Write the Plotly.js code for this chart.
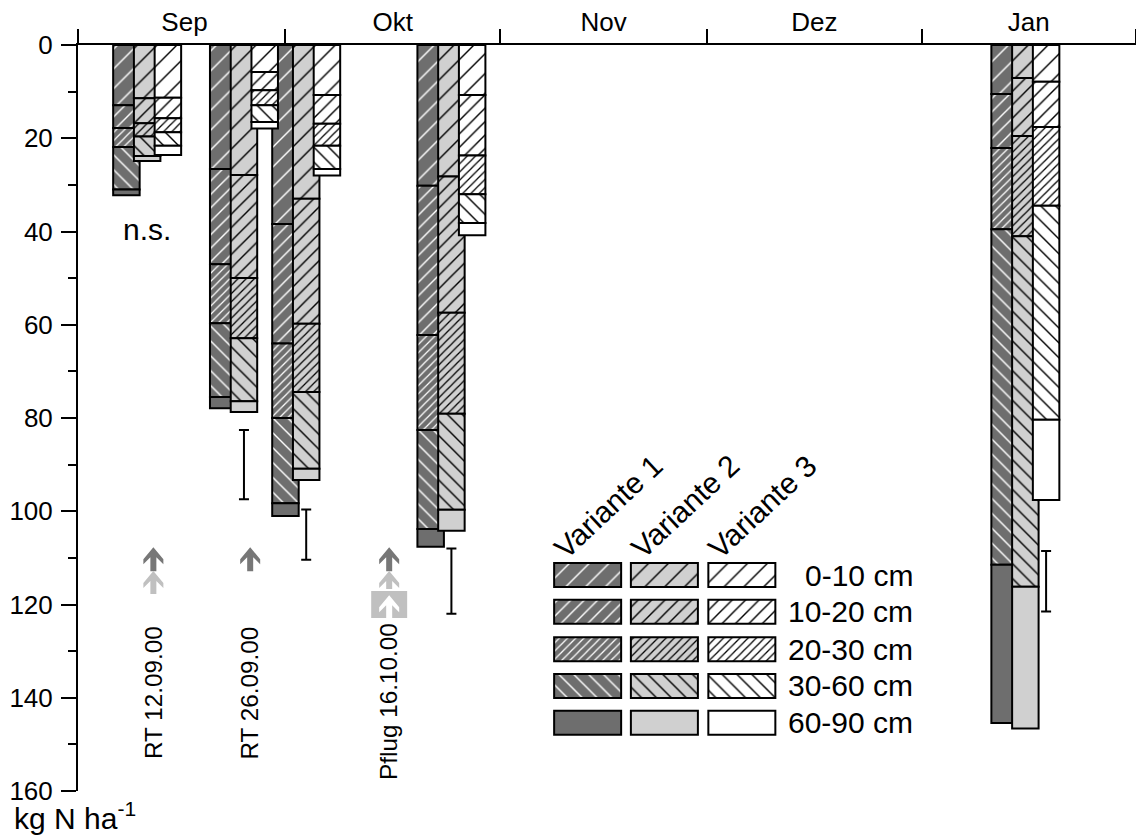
<!DOCTYPE html>
<html><head><meta charset="utf-8">
<script src="https://cdn.plot.ly/plotly-3.0.1.min.js"></script>
<style>html,body{margin:0;padding:0;background:#fff}</style></head>
<body><div id="chart" style="width:1136px;height:836px"></div>
<script>
const months = ['Sep','Okt','Nov','Dez','Jan'];
const monthEdges = [0,30,61,91,122,153];
const monthCenters = [15.4,45.5,76,106.5,137.5];
const depths = ['0-10 cm','10-20 cm','20-30 cm','30-60 cm','60-90 cm'];
const variants = ['Variante 1','Variante 2','Variante 3'];

// Positions of the bars per sampling date (days after 1 Sep)
const xVar1 = [7,21,30,51,134];
const xVar2 = [10,24,33,54,137];
const xVar3 = [13,27,36,57,140];

// Cumulative kg N/ha at the lower boundary of each layer, one row per sampling date
const cumVar1 = [
  [12.9,17.8,21.9,31.0,32.2],
  [26.6,47.0,59.7,75.5,77.9],
  [38.4,64.0,80.0,98.3,101.0],
  [30.2,62.2,82.6,103.8,107.6],
  [10.5,22.1,39.5,111.5,145.4]
];
const cumVar2 = [
  [11.4,16.8,19.6,23.8,24.9],
  [27.9,50.0,62.9,76.4,78.7],
  [33.0,59.8,74.4,90.9,93.3],
  [28.2,57.4,79.1,99.7,104.2],
  [7.1,19.5,41.0,116.2,146.6]
];
const cumVar3 = [
  [11.3,15.7,18.7,21.6,23.6],
  [5.8,9.7,12.9,16.5,17.9],
  [10.7,16.9,21.6,26.6,28.0],
  [10.7,23.7,32.0,38.2,40.8],
  [7.9,17.6,34.5,80.4,97.6]
];

// LSD-style bars
const errX = [24,33,54,140];
const errMid = [90,105,115,115];
const errHalf = [7.4,5.4,7,6.5];

const fills = ['#6e6e6e','#d0d0d0','#ffffff'];
const hatchInk = ['#ffffff','#000000','#000000'];
const hatchShape = ['/','/','/','\\',''];
const hatchSize = [14,9.5,5.8,10.5,10];
const hatchWeight = [2,2,1.8,2,0];

const xAll = [xVar1,xVar2,xVar3], cumAll = [cumVar1,cumVar2,cumVar3];
const barW = 3.83;
const font = 'Liberation Sans, Arial, sans-serif';

function marker(v,d){
  const m = {color:fills[v], line:{color:'#000',width:2}};
  if(hatchShape[d]){
    const w = hatchWeight[d];
    m.pattern = {shape:hatchShape[d], size:hatchSize[d],
      solidity:w/(hatchSize[d]*1.414), fgcolor:hatchInk[v], bgcolor:fills[v], fillmode:'replace'};
  }
  return m;
}
const traces = [];
// invisible carrier for the month-label axis
traces.push({type:'scatter',mode:'markers',x:monthCenters,y:monthCenters.map(()=>0),xaxis:'x2',yaxis:'y',
  marker:{opacity:0,size:1},hoverinfo:'skip',showlegend:false});
for(let v=0;v<3;v++){
  for(let d=0;d<5;d++){
    traces.push({type:'bar',name:variants[v]+' '+depths[d],showlegend:false,
      x:xAll[v],
      base:cumAll[v].map(r=>d===0?0:r[d-1]),
      y:cumAll[v].map(r=>r[d]-(d===0?0:r[d-1])),
      width:xAll[v].map(()=>barW),
      marker:marker(v,d)});
  }
}
// key swatches, on the chart's own scales
const keyX = [73.7,84.8,96.0], keyW = 9.69, keyY = [111.1,119.0,127.0,134.9,142.8], keyH = 5.15;
for(let v=0;v<3;v++){
  for(let d=0;d<5;d++){
    traces.push({type:'bar',showlegend:false,hoverinfo:'skip',
      x:[keyX[v]],base:[keyY[d]],y:[keyH],width:[keyW],marker:marker(v,d)});
  }
}
traces.push({type:'scatter',mode:'markers',x:errX,y:errMid,showlegend:false,
  marker:{size:1,color:'rgba(0,0,0,0)'},
  error_y:{type:'data',array:errHalf,symmetric:true,color:'#000',thickness:2,width:5}});

function label(text,x,y,size,opts){
  return Object.assign({text,x,y,xref:'x',yref:'y',showarrow:false,xanchor:'center',yanchor:'middle',
    font:{family:font,size,color:'#000'}},opts||{});
}
// Field-operation arrows: anchored at a chart position, drawn at a fixed pixel size
function arrow(x,tip,color,len){
  return {type:'path',xref:'x',yref:'y',xsizemode:'pixel',ysizemode:'pixel',xanchor:x,yanchor:tip,
    path:`M0,0 L10,-12 L10,-17 L3,-10 L3,-${len} L-3,-${len} L-3,-10 L-10,-17 L-10,-12 Z`,
    fillcolor:color,line:{width:0},layer:'above'};
}
const dark='#777777', light='#c0c0c0';
const annotations = [
  label('n.s.',10,39.5,30),
  label('RT 12.09.00',10.85,139,24.3,{textangle:-90}),
  label('RT 26.09.00',24.8,139,24.3,{textangle:-90}),
  label('Pflug 16.10.00',44.9,140.8,24.3,{textangle:-90}),
  {text:'kg N ha<sup>-1</sup>',xref:'paper',yref:'paper',x:-0.0624,y:-0.033,xanchor:'left',yanchor:'middle',
    showarrow:false,font:{family:font,size:30,color:'#000'}}
];
[0,1,2].forEach(v=>annotations.push(label(variants[v],keyX[v]+3,99,30,{textangle:-43})));
depths.forEach((t,d)=>annotations.push(label(t,121.1,keyY[d]+keyH/2,30,{xanchor:'right'})));

const layout = {
  width:1136,height:836,margin:{l:78,r:0,t:45,b:45},
  paper_bgcolor:'#fff',plot_bgcolor:'#fff',barmode:'overlay',showlegend:false,
  font:{family:font,size:26,color:'#000'},
  xaxis:{side:'top',range:[0,153],tickmode:'array',tickvals:monthEdges,showticklabels:false,
    ticks:'outside',ticklen:14,tickwidth:2,tickcolor:'#000',showline:true,linewidth:2,linecolor:'#000',
    showgrid:false,zeroline:false,anchor:'y'},
  xaxis2:{overlaying:'x',side:'top',range:[0,153],tickmode:'array',tickvals:monthCenters,ticktext:months,
    ticks:'outside',ticklen:3,tickcolor:'rgba(0,0,0,0)',showline:false,showgrid:false,zeroline:false,anchor:'y',
    tickfont:{family:font,size:26,color:'#000'}},
  yaxis:{range:[160,0],tickmode:'linear',tick0:0,dtick:20,ticks:'outside',ticklen:15,tickwidth:2,tickcolor:'#000',
    minor:{dtick:10,ticks:'outside',ticklen:8,tickwidth:2,tickcolor:'#000',showgrid:false},
    showline:true,linewidth:2,linecolor:'#000',showgrid:false,zeroline:false,ticklabelstandoff:3,
    tickfont:{family:font,size:26,color:'#000'}},
  shapes:[
    {type:'rect',xref:'x',yref:'y',x0:42.4,x1:47.6,y0:117.1,y1:122.9,fillcolor:light,line:{width:0},layer:'above'},
    arrow(10.9,107.7,dark,24), arrow(10.9,112.8,light,23),
    arrow(24.9,107.7,dark,24),
    arrow(45,107.7,dark,24), arrow(45,112.8,light,18),
    arrow(45,118,'#ffffff',23)
  ],
  annotations
};
Plotly.newPlot('chart',traces,layout,{staticPlot:true,displayModeBar:false});
</script></body></html>
